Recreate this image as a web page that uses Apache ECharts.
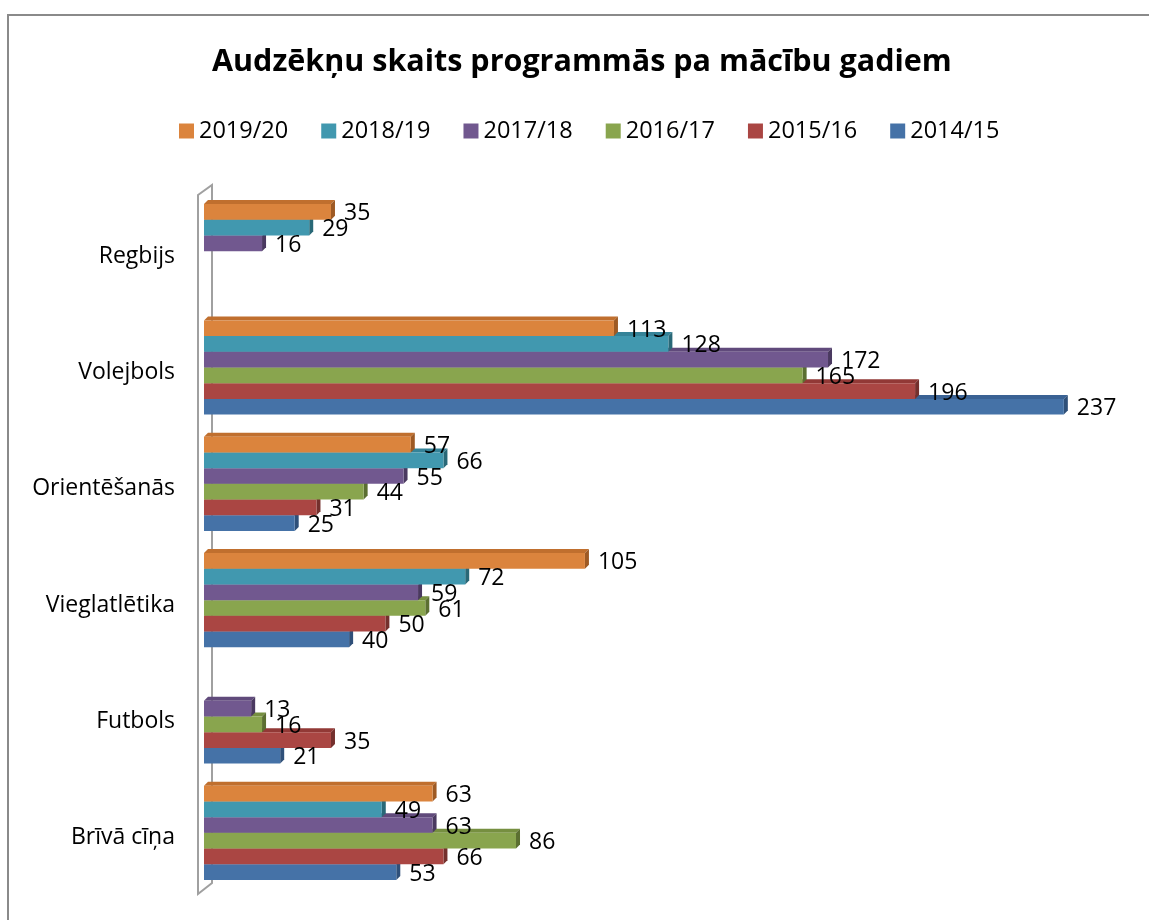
<!DOCTYPE html>
<html>
<head>
<meta charset="utf-8">
<script src="https://cdn.jsdelivr.net/npm/echarts@6/dist/echarts.min.js"></script>
<style>html,body{margin:0;padding:0;background:#fff;}#c{width:1149px;height:920px;}</style>
</head>
<body>
<div id="c"></div>
<script>
// Categories (bottom to top on the axis)
var categories = ['Brīvā cīņa', 'Futbols', 'Vieglatlētika', 'Orientēšanās', 'Volejbols', 'Regbijs'];
// Series values per category (same order as categories); null = no bar
var y2014_15 = [53, 21, 40, 25, 237, null];
var y2015_16 = [66, 35, 50, 31, 196, null];
var y2016_17 = [86, 16, 61, 44, 165, null];
var y2017_18 = [63, 13, 59, 55, 172, 16];
var y2018_19 = [49, null, 72, 66, 128, 29];
var y2019_20 = [63, null, 105, 57, 113, 35];
var legendNames = ['2019/20', '2018/19', '2017/18', '2016/17', '2015/16', '2014/15'];

var chart = echarts.init(document.getElementById('c'));
var FONT = '"Open Sans", "Noto Sans", sans-serif';

// drawn bottom-up so that upper bars cover lower bars' top faces
var seriesDefs = [
  {name: '2014/15', data: y2014_15, slot: 5, front: '#4572A7', topc: '#3A6294', side: '#2F5079'},
  {name: '2015/16', data: y2015_16, slot: 4, front: '#AA4643', topc: '#923936', side: '#74302D'},
  {name: '2016/17', data: y2016_17, slot: 3, front: '#89A54E', topc: '#768F40', side: '#5B6F31'},
  {name: '2017/18', data: y2017_18, slot: 2, front: '#71588F', topc: '#604A7B', side: '#4A3960'},
  {name: '2018/19', data: y2018_19, slot: 1, front: '#4198AF', topc: '#358398', side: '#296877'},
  {name: '2019/20', data: y2019_20, slot: 0, front: '#DB843D', topc: '#C06F2E', side: '#9E5A24'}
];

function toData(arr) {
  var out = [];
  for (var i = 0; i < arr.length; i++) {
    if (arr[i] != null) out.push([arr[i], i]);
  }
  return out;
}

function makeRender(def) {
  return function (params, api) {
    var v = api.value(0), c = api.value(1);
    var p0 = api.coord([0, c]);
    var p1 = api.coord([v, c]);
    var band = api.size([0, 1])[1];
    var slotH = band * 0.81 / 6;
    var top = p0[1] - slotH * 3 + def.slot * slotH;
    var x0 = p0[0], x1 = p1[0], d = 4, h = slotH;
    return {
      type: 'group',
      children: [
        {type: 'polygon', shape: {points: [[x0, top], [x0 + d, top - d], [x1 + d, top - d], [x1, top]]},
          style: {fill: def.topc}},
        {type: 'polygon', shape: {points: [[x1, top], [x1 + d, top - d], [x1 + d, top + h - d], [x1, top + h]]},
          style: {fill: def.side}},
        {type: 'rect', shape: {x: x0, y: top, width: x1 - x0, height: h},
          style: {fill: def.front}},
        {type: 'text', z2: 100, style: {text: String(v), x: x1 + 13, y: top + h / 2 + 2,
          verticalAlign: 'middle', align: 'left', fill: '#000', font: '23px ' + FONT}}
      ]
    };
  };
}

var series = [{
  type: 'custom',
  name: 'wall',
  silent: true,
  data: [[0, 0]],
  encode: {x: 0, y: 1},
  renderItem: function (params, api) {
    var cs = params.coordSys;
    var gx = cs.x, gy = cs.y, gh = cs.height;
    return {
      type: 'polygon',
      shape: {points: [[gx - 6, gy + 2], [gx + 8, gy - 8], [gx + 8, gy + gh - 8], [gx - 6, gy + gh + 3]]},
      style: {fill: '#fff', stroke: '#a0a0a0', lineWidth: 2}
    };
  }
}];
seriesDefs.forEach(function (def) {
  series.push({
    type: 'custom',
    name: def.name,
    itemStyle: {color: def.front},
    data: toData(def.data),
    encode: {x: 0, y: 1},
    renderItem: makeRender(def)
  });
});

chart.setOption({
  animation: false,
  backgroundColor: '#fff',
  title: {
    text: 'Audzēkņu skaits programmās pa mācību gadiem',
    left: 207,
    top: 42,
    textStyle: {fontFamily: FONT, fontSize: 30.5, fontWeight: 'bold', color: '#000'}
  },
  legend: {
    data: legendNames,
    top: 114,
    left: 174,
    icon: 'rect',
    itemWidth: 15,
    itemHeight: 15,
    itemGap: 33,
    textStyle: {fontFamily: FONT, fontSize: 23.5, color: '#000'}
  },
  grid: {left: 204, top: 193, width: 907, height: 698},
  xAxis: {type: 'value', min: 0, max: 250, show: false, splitLine: {show: false}},
  yAxis: {
    type: 'category',
    data: categories,
    axisLine: {show: false},
    axisTick: {show: false},
    axisLabel: {margin: 29, fontFamily: FONT, fontSize: 23, color: '#000', verticalAlign: 'top', lineHeight: 10}
  },
  graphic: [{
    type: 'rect', silent: true, z: -1,
    shape: {x: 8, y: 15, width: 1300, height: 1000},
    style: {fill: 'none', stroke: '#8a8a8a', lineWidth: 2}
  }],
  series: series
});
</script>
</body>
</html>
